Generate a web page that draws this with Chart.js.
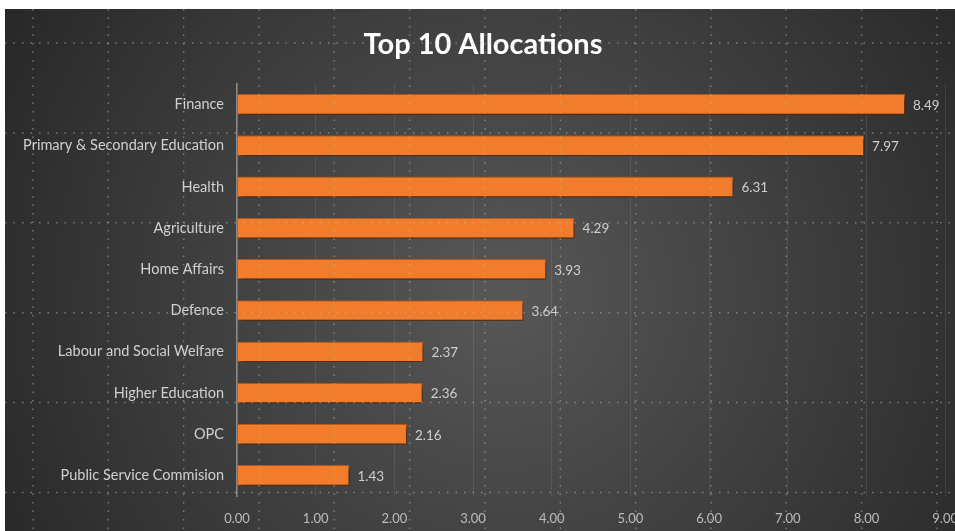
<!DOCTYPE html>
<html>
<head>
<meta charset="utf-8">
<script src="https://cdn.jsdelivr.net/npm/chart.js@4"></script>
<style>
  html, body { margin: 0; padding: 0; background: #fff; width: 955px; height: 531px; overflow: hidden; }
  #wrap { position: absolute; left: 5px; top: 9px; width: 968px; height: 522px; }
</style>
</head>
<body>
<div id="wrap"><canvas id="allocChart" width="968" height="522"></canvas></div>
<script>
// top 10 allocations - horizontal bars

const categories = ['Finance', 'Primary & Secondary Education', 'Health', 'Agriculture', 'Home Affairs',
    'Defence', 'Labour and Social Welfare', 'Higher Education', 'OPC', 'Public Service Commision'];
const allocations = [8.49, 7.97, 6.31, 4.29, 3.93, 3.64, 2.37, 2.36, 2.16, 1.43];
const xTicks = [0, 1, 2, 3, 4, 5, 6, 7, 8, 9];

// dark radial background
const bgPlugin = {
    id: 'bg',
    beforeDraw(chart) {
        const ctx = chart.ctx;
        const w = 950, h = chart.height;
        const g = ctx.createRadialGradient(w * 0.52, h * 0.55, 20, w * 0.52, h * 0.55, w * 0.62);
        g.addColorStop(0, '#565656');
        g.addColorStop(1, '#262626');
        ctx.save();
        ctx.fillStyle = g;
        ctx.fillRect(0, 0, chart.width, h);
        ctx.restore();
    }
};

// bar shadow
const shadowPlugin = {
    id: 'barShadow',
    beforeDatasetsDraw(chart) {
        const ctx = chart.ctx;
        ctx.save();
        ctx.shadowColor = 'rgba(0,0,0,0.6)';
        ctx.shadowBlur = 4;
        ctx.shadowOffsetX = 2;
        ctx.shadowOffsetY = 3;
    },
    afterDatasetsDraw(chart) {
        chart.ctx.restore();
        // value labels
        const ctx = chart.ctx;
        const meta = chart.getDatasetMeta(0);
        ctx.save();
        ctx.fillStyle = '#cfcfcf';
        ctx.font = '13.5px Lato';
        ctx.textBaseline = 'middle';
        meta.data.forEach((bar, i) => {
            ctx.fillText(allocations[i].toFixed(2), bar.x + 8, bar.y + 1);
        });
        ctx.restore();
    }
};

// dotted overlay grid seen on the picture
const dotsPlugin = {
    id: 'dots',
    afterDraw(chart) {
        const ctx = chart.ctx;
        ctx.save();
        ctx.strokeStyle = 'rgba(190,190,190,0.5)';
        ctx.lineWidth = 1.5;
        ctx.setLineDash([1.5, 7]);
        for (let x = 28; x < chart.width; x += 75.33) {
            ctx.beginPath();
            ctx.moveTo(x, 0);
            ctx.lineTo(x, chart.height);
            ctx.stroke();
        }
        for (let y = 34; y < chart.height; y += 89.9) {
            ctx.beginPath();
            ctx.moveTo(0, y);
            ctx.lineTo(chart.width, y);
            ctx.stroke();
        }
        ctx.restore();
    }
};

const chartE = document.getElementById('allocChart');
const allocChart = new Chart(chartE, {
    type: 'bar',
    data: {
        labels: categories,
        datasets: [{
            label: 'Allocation',
            data: allocations,
            backgroundColor: '#F07C2C',
            borderColor: '#C0560F',
            borderWidth: 1,
            barPercentage: 1,
            categoryPercentage: 0.5
        }]
    },
    plugins: [bgPlugin, shadowPlugin, dotsPlugin],
    options: {
        indexAxis: 'y',
        responsive: false,
        animation: false,
        devicePixelRatio: 1,
        layout: {
            padding: { left: 0, right: 12, top: 0, bottom: 0 }
        },
        scales: {
            x: {
                min: 0,
                max: 9,
                afterBuildTicks(scale) {
                    scale.ticks = xTicks.map(v => ({ value: v }));
                },
                afterFit(scale) {
                    scale.height = 35;
                },
                grid: {
                    color: 'rgba(255,255,255,0.09)',
                    drawTicks: false
                },
                border: { display: false },
                ticks: {
                    color: '#bcbcbc',
                    padding: 15,
                    maxRotation: 0,
                    font: { family: 'Lato', size: 13 },
                    callback: v => Number(v).toFixed(2)
                }
            },
            y: {
                afterFit(scale) {
                    scale.width = 232;
                },
                grid: { display: false, drawTicks: false },
                border: { display: true, color: '#8a8a8a', width: 1.5 },
                ticks: {
                    color: '#d0d0d0',
                    padding: 13,
                    font: { family: 'Lato', size: 14.5 }
                }
            }
        },
        plugins: {
            legend: { display: false },
            tooltip: { enabled: false },
            title: {
                display: true,
                text: 'Top 10 Allocations',
                color: '#ffffff',
                padding: { top: 18, bottom: 22 },
                font: { family: 'Lato', size: 29, weight: 'bold' }
            }
        }
    }
});
</script>
</body>
</html>
